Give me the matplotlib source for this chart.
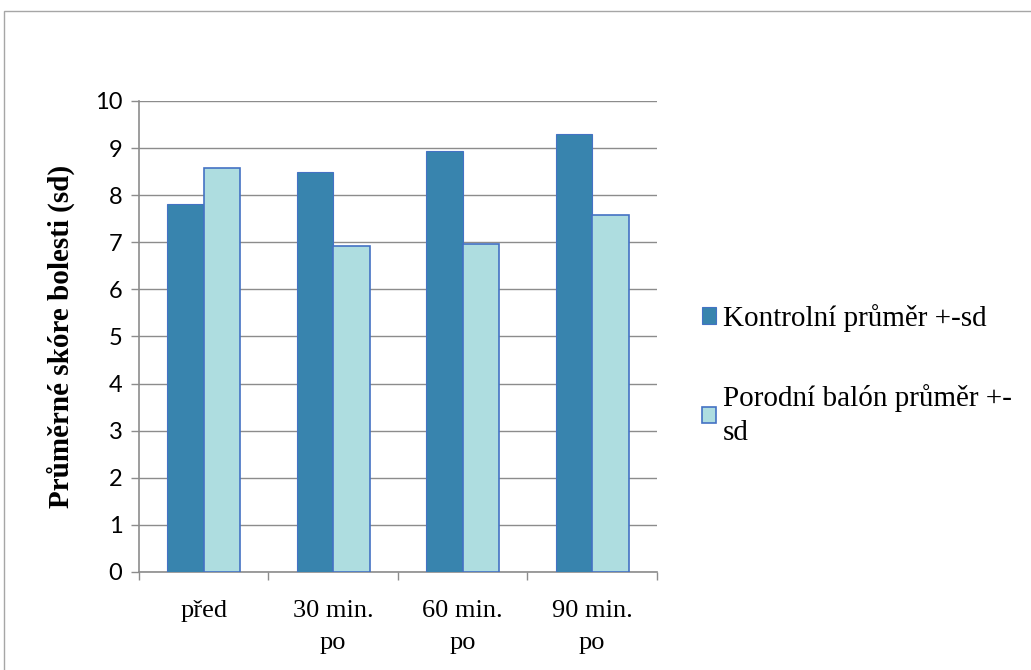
import matplotlib.pyplot as plt
import numpy as np
from matplotlib.patches import Rectangle

SERIF = ["Liberation Serif", "DejaVu Serif"]
SANS = ["Lato", "Open Sans", "DejaVu Sans"]
plt.rcParams["font.family"] = SERIF

# --- data ---
categories = ["před", "30 min.\npo", "60 min.\npo", "90 min.\npo"]
kontrolni = [7.81, 8.50, 8.93, 9.30]
balon = [8.57, 6.93, 6.97, 7.58]
series_labels = ["Kontrolní průměr +-sd", "Porodní balón průměr +-\nsd"]
y_ticks = list(range(0, 11))

DARK = "#3884AE"
LIGHT = "#AEDDE0"
EDGE = "#4472C4"
GRID = "#8C8C8C"

fig = plt.figure(figsize=(10.31, 6.70), dpi=100)
ax = fig.add_axes([0.1348, 0.1463, 0.5024, 0.7030])

x = np.arange(len(categories))
w = 0.282
ax.bar(x - w / 2, kontrolni, width=w, color=DARK, edgecolor=EDGE,
       linewidth=0.8, label=series_labels[0], zorder=3)
ax.bar(x + w / 2, balon, width=w, color=LIGHT, edgecolor=EDGE,
       linewidth=1.2, label=series_labels[1], zorder=3)

ax.set_xlim(-0.5, len(categories) - 0.5)
ax.set_ylim(0, 10)
ax.set_yticks(y_ticks)
ax.set_yticklabels([str(t) for t in y_ticks], family=SANS, fontsize=17)
ax.grid(True, axis="y", color=GRID, linewidth=1.0, zorder=0)
ax.set_axisbelow(True)

# boundary ticks (no labels) + centered category labels
ax.set_xticks(np.arange(-0.5, len(categories), 1.0))
ax.set_xticklabels([])
ax.set_xticks(x, minor=True)
ax.set_xticklabels(categories, minor=True, fontsize=19, linespacing=1.6,
                   va="top", family=SERIF)
ax.tick_params(axis="x", which="minor", length=0, pad=20)
ax.tick_params(axis="x", which="major", length=6, color=GRID, width=1)
ax.tick_params(axis="y", length=6, color=GRID, width=1, pad=6)

for s in ("top", "right"):
    ax.spines[s].set_visible(False)
for s in ("left", "bottom"):
    ax.spines[s].set_color(GRID)
    ax.spines[s].set_linewidth(1.2)

ax.set_ylabel("Průměrné skóre bolesti (sd)", fontsize=21, fontweight="bold",
              labelpad=14, family=SERIF)

leg = fig.legend(loc="center left", bbox_to_anchor=(0.655, 0.440), frameon=False,
                 prop={"family": SERIF, "size": 21}, handlelength=0.48,
                 handleheight=0.48, handletextpad=0.25, labelspacing=1.8)
for t in leg.get_texts():
    t.set_linespacing(1.4)

# outer chart border
fig.patches.append(Rectangle((0.004, -0.01), 1.0, 0.993, transform=fig.transFigure,
                             fill=False, edgecolor="#A6A6A6", linewidth=1.0))

fig.savefig("out.png", dpi=100)
